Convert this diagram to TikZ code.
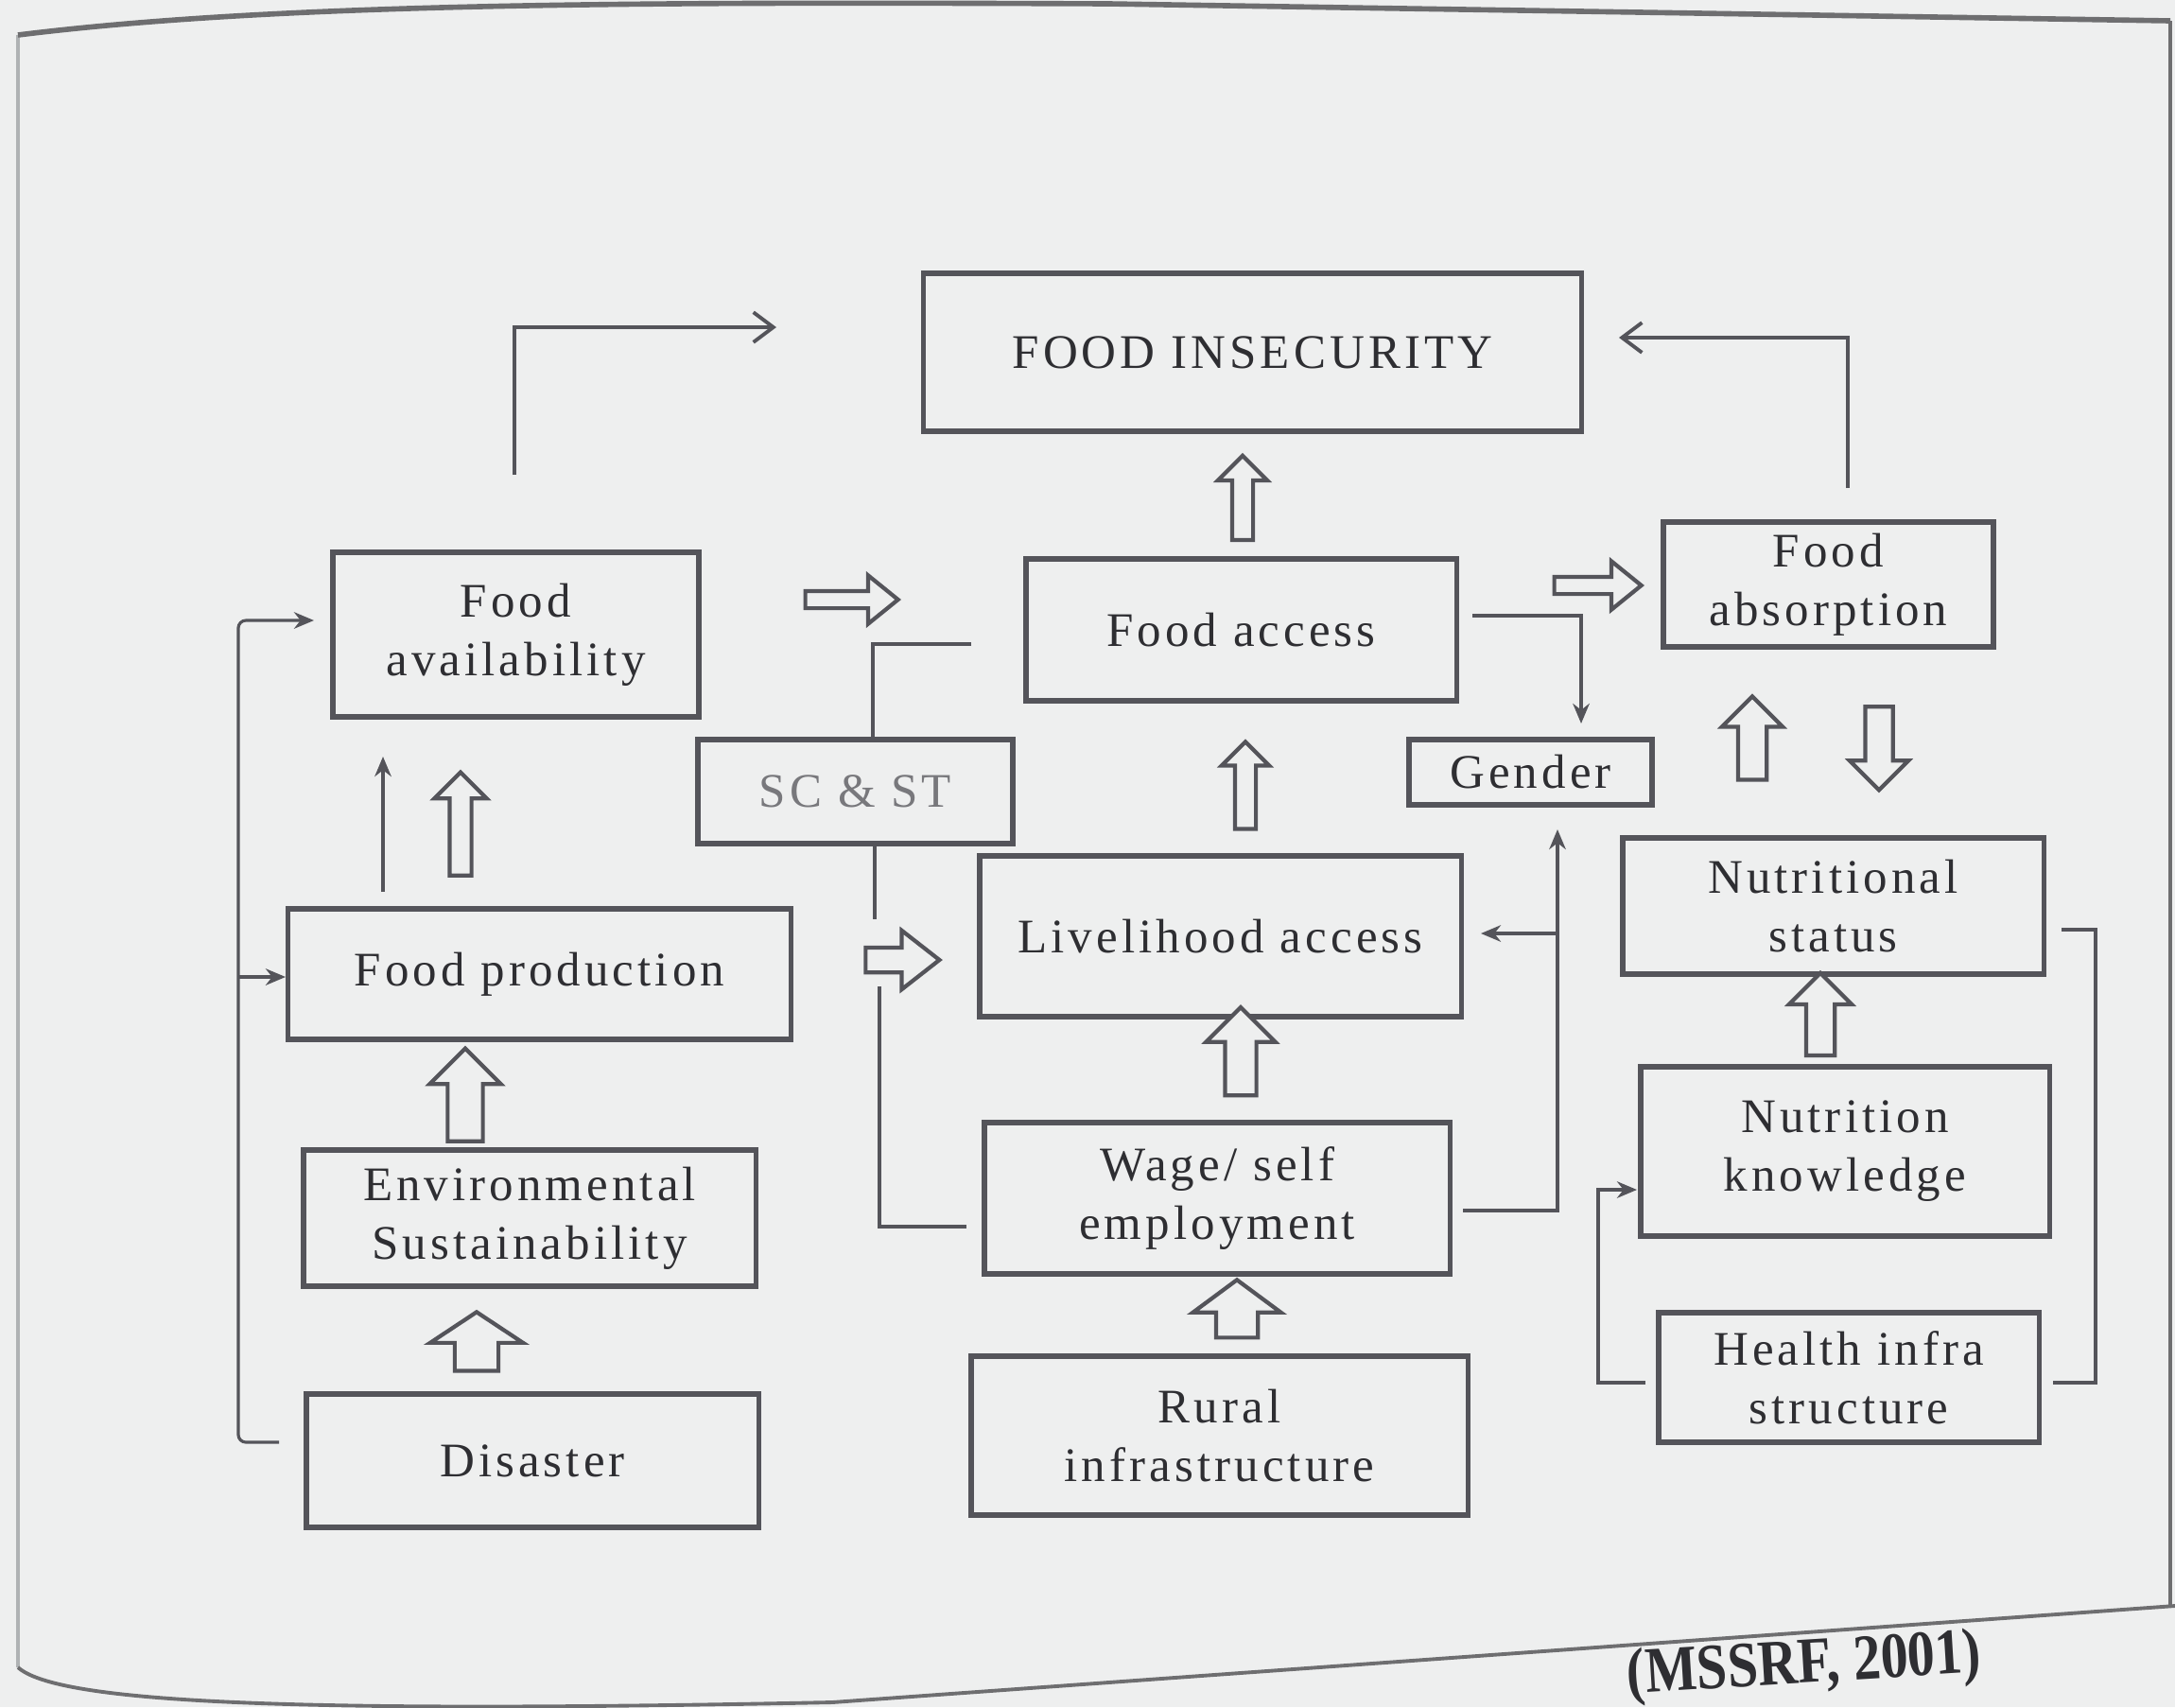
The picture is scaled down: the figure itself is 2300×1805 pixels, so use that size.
\documentclass[tikz,border=0pt]{standalone}
\usepackage{fontspec}
\usetikzlibrary{arrows.meta,shapes.arrows}
\newfontfamily\boxfont{Liberation Serif}[LetterSpace=8]
\newfontfamily\srcfont{Liberation Serif}
\definecolor{bgc}{RGB}{238,239,239}
\definecolor{linec}{RGB}{84,84,90}
\definecolor{txtc}{RGB}{46,46,50}
\definecolor{txtl}{RGB}{120,120,124}
\definecolor{pagec}{RGB}{110,110,112}
\definecolor{pagel}{RGB}{175,178,180}
\tikzset{
  box/.style={draw=linec, line width=1.5pt, text=txtc, align=center, inner sep=0pt,
    font=\boxfont\fontsize{14.5}{17.6}\selectfont},
  blk/.style={single arrow, draw=linec, line width=1.2pt, fill=bgc, inner xsep=0pt,
    single arrow head indent=0pt, anchor=center},
  conn/.style={draw=linec, line width=0.9pt},
  tip/.style={conn, -{Stealth[length=6pt,width=5pt]}},
  barb/.style={conn, -{Straight Barb[length=6pt,width=9pt,line width=1.1pt]}},
}
\begin{document}
\begin{tikzpicture}[x=0.01cm, y=-0.01cm]
\useasboundingbox (0,0) rectangle (2300,1805);
\fill[bgc] (0,0) rectangle (2300,1805);

% page edges
\draw[pagel, line width=1.2pt] (19,1763) -- (19,37);
\draw[pagec, line width=1.6pt] (19,37) .. controls (300,2) and (700,2) .. (1173,4) -- (2295,22);
\draw[pagec, line width=1.0pt] (2295,22) -- (2295,1698);
\draw[pagec, line width=1.1pt] (19,1763) .. controls (60,1800) and (300,1812) .. (880,1800) -- (2300,1698);

% boxes
\node[box, minimum width=6.95cm, minimum height=1.67cm] (fi) at (1324.5,372.5) {FOOD INSECURITY};
\node[box, minimum width=3.87cm, minimum height=1.74cm] (favail) at (545.5,671) {Food\\availability};
\node[box, minimum width=4.55cm, minimum height=1.50cm] (faccess) at (1312.5,666) {Food access};
\node[box, minimum width=3.49cm, minimum height=1.32cm] (fabs) at (1933.5,618) {Food\\absorption};
\node[box, minimum width=3.33cm, minimum height=1.10cm, text=txtl] (scst) at (904.5,837) {SC \& ST};
\node[box, minimum width=2.57cm, minimum height=0.69cm] (gender) at (1618.5,816.5) {Gender};
\node[box, minimum width=5.31cm, minimum height=1.38cm] (fprod) at (570.5,1030) {Food production};
\node[box, minimum width=5.09cm, minimum height=1.70cm] (liveli) at (1290.5,990) {Livelihood access};
\node[box, minimum width=4.45cm, minimum height=1.44cm] (nutstat) at (1938.5,958) {Nutritional\\status};
\node[box, minimum width=4.78cm, minimum height=1.44cm] (env) at (560,1288) {Environmental\\Sustainability};
\node[box, minimum width=4.92cm, minimum height=1.60cm] (wage) at (1287,1267) {Wage/ self\\employment};
\node[box, minimum width=4.32cm, minimum height=1.79cm] (nutknow) at (1951,1217.5) {Nutrition\\knowledge};
\node[box, minimum width=4.78cm, minimum height=1.41cm] (disaster) at (563,1544.5) {Disaster};
\node[box, minimum width=5.25cm, minimum height=1.68cm] (rural) at (1289.5,1518) {Rural\\infrastructure};
\node[box, minimum width=4.02cm, minimum height=1.37cm] (health) at (1955,1456.5) {Health infra\\structure};

% hollow block arrows (inner ysep = half the shaft width)
\node[blk, rotate=90, minimum height=0.89cm, inner ysep=0.09cm, single arrow head extend=0.15cm] (ba1) at (1314,532) {};
\node[blk, minimum height=0.98cm, inner ysep=0.07cm, single arrow head extend=0.165cm, single arrow tip angle=78] (ba2) at (895,634) {};
\node[blk, minimum height=0.92cm, inner ysep=0.07cm, single arrow head extend=0.165cm, single arrow tip angle=78] (ba3) at (1684,619) {};
\node[blk, rotate=90, minimum height=0.92cm, inner ysep=0.09cm, single arrow head extend=0.14cm] (ba4) at (1317,836) {};
\node[blk, rotate=90, minimum height=0.88cm, inner ysep=0.13cm, single arrow head extend=0.17cm] (ba5) at (1853,788) {};
\node[blk, rotate=-90, minimum height=0.88cm, inner ysep=0.125cm, single arrow head extend=0.165cm] (ba6) at (1987,784) {};
\node[blk, rotate=90, minimum height=0.87cm, inner ysep=0.13cm, single arrow head extend=0.18cm] (ba7) at (1925,1080) {};
\node[blk, rotate=90, minimum height=0.93cm, inner ysep=0.145cm, single arrow head extend=0.20cm] (ba8) at (1312,1120) {};
\node[blk, rotate=90, minimum height=0.61cm, inner ysep=0.20cm, single arrow head extend=0.245cm, single arrow tip angle=107] (ba9) at (1308,1392) {};
\node[blk, rotate=90, minimum height=0.98cm, inner ysep=0.165cm, single arrow head extend=0.19cm] (ba10) at (492,1167) {};
\node[blk, rotate=90, minimum height=0.62cm, inner ysep=0.21cm, single arrow head extend=0.26cm, single arrow tip angle=113] (ba11) at (504,1426) {};
\node[blk, rotate=90, minimum height=1.09cm, inner ysep=0.095cm, single arrow head extend=0.16cm] (ba12) at (487,877) {};
\node[blk, minimum height=0.78cm, inner ysep=0.11cm, single arrow head extend=0.18cm, single arrow tip angle=76] (ba13) at (946,1015) {};

% connector end points
\coordinate (c1a) at (544,502);   \coordinate (c1b) at (821,346);
\coordinate (c2a) at (1954,516);  \coordinate (c2b) at (1712,357);
\coordinate (c3a) at (1557,651);  \coordinate (c3b) at (1672,765);
\coordinate (c4a) at (1027,681);  \coordinate (c4b) at (923,784);
\coordinate (c5a) at (925,892);   \coordinate (c5b) at (925,972);
\coordinate (c6a) at (930,1043);  \coordinate (c6b) at (1022,1297);
\coordinate (c7a) at (1547,1280); \coordinate (c7b) at (1647,877);
\coordinate (c7j) at (1647,987);  \coordinate (c7c) at (1566,987);
\coordinate (c8a) at (295,1525);  \coordinate (c8k) at (252,1525);
\coordinate (c8m) at (252,656);   \coordinate (c8b) at (332,656);
\coordinate (c8j) at (252,1033);  \coordinate (c8c) at (302,1033);
\coordinate (c9a) at (405,943);   \coordinate (c9b) at (405,800);
\coordinate (c10a) at (1740,1462); \coordinate (c10b) at (1731,1258);
\coordinate (c11a) at (2171,1462); \coordinate (c11b) at (2180,983);

% connectors
\draw[barb] (c1a) |- (c1b);
\draw[barb] (c2a) |- (c2b);
\draw[tip] (c3a) -| (c3b);
\draw[conn] (c4a) -| (c4b);
\draw[conn] (c5a) -- (c5b);
\draw[conn] (c6a) |- (c6b);
\draw[tip] (c7a) -| (c7b);
\draw[tip] (c7j) -- (c7c);
\draw[tip, rounded corners=0.08cm] (c8a) -- (c8k) -- (c8m) -- (c8b);
\draw[tip] (c8j) -- (c8c);
\draw[tip] (c9a) -- (c9b);
\draw[tip] (c10a) -- (1690,1462) |- (c10b);
\draw[conn] (c11a) -- (2216,1462) |- (c11b);

% source
\node[text=txtc, font=\srcfont\bfseries\fontsize{16.5}{18}\selectfont, rotate=3.5, inner sep=0pt] (src) at (1908,1763) {\scalebox{1}[1.18]{(MSSRF, 2001)}};
\end{tikzpicture}
\end{document}
